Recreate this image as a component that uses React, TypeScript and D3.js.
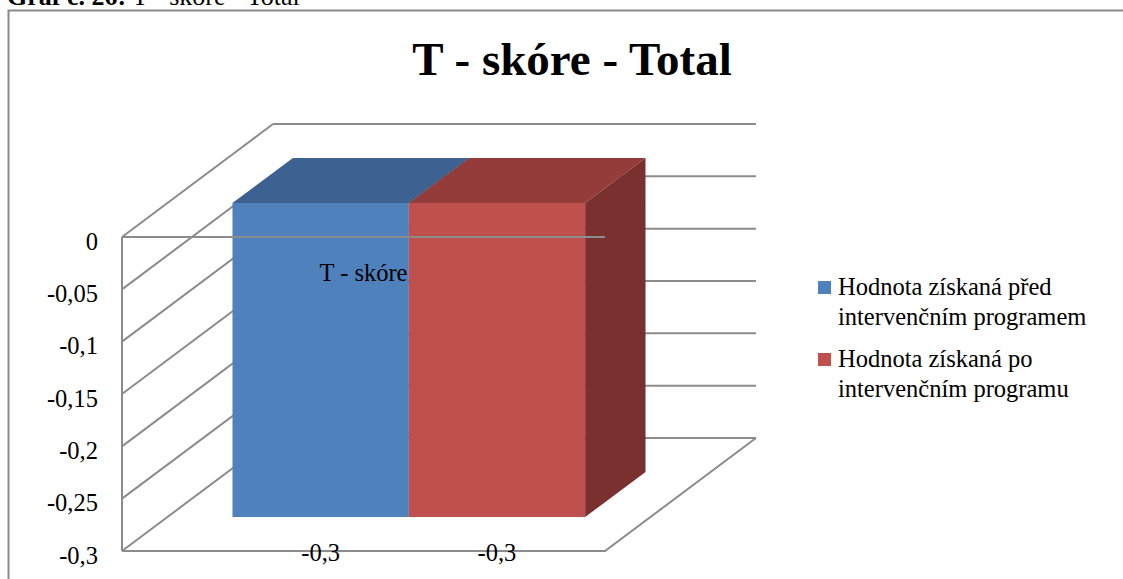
import React from "react";
import * as d3 from "d3";

// Chart data
const categories = ["T - skóre"];
const seriesLegend = [
  ["Hodnota získaná před", "intervenčním programem"],
  ["Hodnota získaná po", "intervenčním programu"],
];
const seriesValues = [[-0.3], [-0.3]];
const yTicks = [0, -0.05, -0.1, -0.15, -0.2, -0.25, -0.3];

const chartTitle = "T - skóre - Total";
const captionBold = "Graf č. 26:";
const captionText = " T - skóre - Total";

// Face colours per series: front, top, side
const frontColors = ["#4f81bd", "#c0504d"];
const topColors = ["#3d6190", "#943c39"];
const sideColors = ["#385780", "#79302e"];

const W = 1123;
const H = 579;
const FONT = "Liberation Serif, Times New Roman, Times, serif";
const GRID = "#8c8c8c";
const LABEL_SIZE = 24.5;

// Oblique projection offset for full depth
const DX = 151;
const DY = -113;
// Depth fractions of the bar block
const F0 = 0.3;
const F1 = 0.7;

const fmt = (v: number) => String(v).replace(".", ",");

export default function App() {
  const y = d3.scaleLinear().domain([-0.3, 0]).range([551, 237]);
  const x = d3.scaleBand<string>().domain(categories).range([122, 605]).padding(0.156);
  const sub = d3
    .scaleBand<number>()
    .domain(seriesValues.map((_, i) => i))
    .range([0, x.bandwidth()]);

  const [x0, x1] = x.range();
  const yMin = y(-0.3);
  const yZero = y(0);

  const poly = (pts: [number, number][]) => pts.map((p) => p.join(",")).join(" ");

  const bars = categories.flatMap((c, ci) =>
    seriesValues.map((vals, si) => {
      const v = vals[ci];
      const xl = (x(c) as number) + (sub(si) as number);
      const xr = xl + sub.bandwidth();
      const yt = y(0);
      const yb = y(v);
      const P = (px: number, py: number, f: number): [number, number] => [px + DX * f, py + DY * f];
      return {
        key: `${ci}-${si}`,
        si,
        v,
        front: [P(xl, yt, F0), P(xr, yt, F0), P(xr, yb, F0), P(xl, yb, F0)] as [number, number][],
        top: [P(xl, yt, F0), P(xr, yt, F0), P(xr, yt, F1), P(xl, yt, F1)] as [number, number][],
        side: [P(xr, yt, F0), P(xr, yt, F1), P(xr, yb, F1), P(xr, yb, F0)] as [number, number][],
        labelX: (xl + xr) / 2 + DX * F0,
        labelY: yb + DY * F0 + 35,
      };
    })
  );

  const txt = { fontFamily: FONT, fontWeight: 400 as const };

  return (
    <svg width={W} height={H} style={{ position: "absolute", left: 0, top: 0, background: "#fff" }}>
      {/* caption above the frame */}
      <text x={7} y={5} fontSize={26} fill="#000" style={txt}>
        <tspan style={{ fontWeight: 700 }}>{captionBold}</tspan>
        <tspan>{captionText}</tspan>
      </text>

      {/* chart frame */}
      <path d={`M8.5,${H} V10.5 H${W}`} fill="none" stroke="#8a8a8a" strokeWidth={2} />

      <text
        x={572}
        y={75}
        textAnchor="middle"
        fontSize={47}
        fill="#000"
        style={{ fontFamily: FONT, fontWeight: 700 }}
      >
        {chartTitle}
      </text>

      {/* back wall gridlines */}
      {yTicks.map((t) => (
        <line
          key={`bw${t}`}
          x1={x0 + DX}
          x2={x1 + DX}
          y1={y(t) + DY}
          y2={y(t) + DY}
          stroke={GRID}
          strokeWidth={2}
        />
      ))}
      {/* side wall gridlines */}
      {yTicks.map((t) => (
        <line
          key={`sw${t}`}
          x1={x0}
          y1={y(t)}
          x2={x0 + DX}
          y2={y(t) + DY}
          stroke={GRID}
          strokeWidth={2}
        />
      ))}
      {/* front vertical axis and floor edge */}
      <line x1={x0} x2={x0} y1={yZero} y2={yMin} stroke={GRID} strokeWidth={2} />
      <polyline
        points={poly([
          [x0, yMin],
          [x1, yMin],
          [x1 + DX, yMin + DY],
        ])}
        fill="none"
        stroke={GRID}
        strokeWidth={2}
      />

      {/* bars */}
      {bars.map((b) => (
        <g key={b.key}>
          <polygon points={poly(b.top)} fill={topColors[b.si]} />
          <polygon points={poly(b.side)} fill={sideColors[b.si]} />
          <polygon points={poly(b.front)} fill={frontColors[b.si]} />
        </g>
      ))}

      {/* category axis at zero */}
      <line x1={x0} x2={x1} y1={yZero} y2={yZero} stroke={GRID} strokeWidth={2} />
      {categories.map((c) => (
        <text
          key={c}
          x={(x(c) as number) + x.bandwidth() / 2}
          y={yZero + 35}
          textAnchor="middle"
          dominantBaseline="central"
          fontSize={LABEL_SIZE}
          fill="#000"
          style={txt}
        >
          {c}
        </text>
      ))}

      {/* value axis labels */}
      {yTicks.map((t) => (
        <text
          key={`yl${t}`}
          x={98}
          y={y(t) + 4}
          textAnchor="end"
          dominantBaseline="central"
          fontSize={LABEL_SIZE}
          fill="#000"
          style={txt}
        >
          {fmt(t)}
        </text>
      ))}

      {/* data labels */}
      {bars.map((b) => (
        <text
          key={`dl${b.key}`}
          x={b.labelX}
          y={b.labelY}
          textAnchor="middle"
          dominantBaseline="central"
          fontSize={LABEL_SIZE}
          fill="#000"
          style={txt}
        >
          {fmt(b.v)}
        </text>
      ))}

      {/* legend */}
      {seriesLegend.map((lines, i) => (
        <g key={`lg${i}`} transform={`translate(818, ${281 + i * 72})`}>
          <rect width={13} height={13} fill={frontColors[i]} />
          <text x={20} y={14} fontSize={LABEL_SIZE} fill="#000" style={txt}>
            {lines.map((ln, j) => (
              <tspan key={j} x={20} y={14 + j * 30}>
                {ln}
              </tspan>
            ))}
          </text>
        </g>
      ))}
    </svg>
  );
}
